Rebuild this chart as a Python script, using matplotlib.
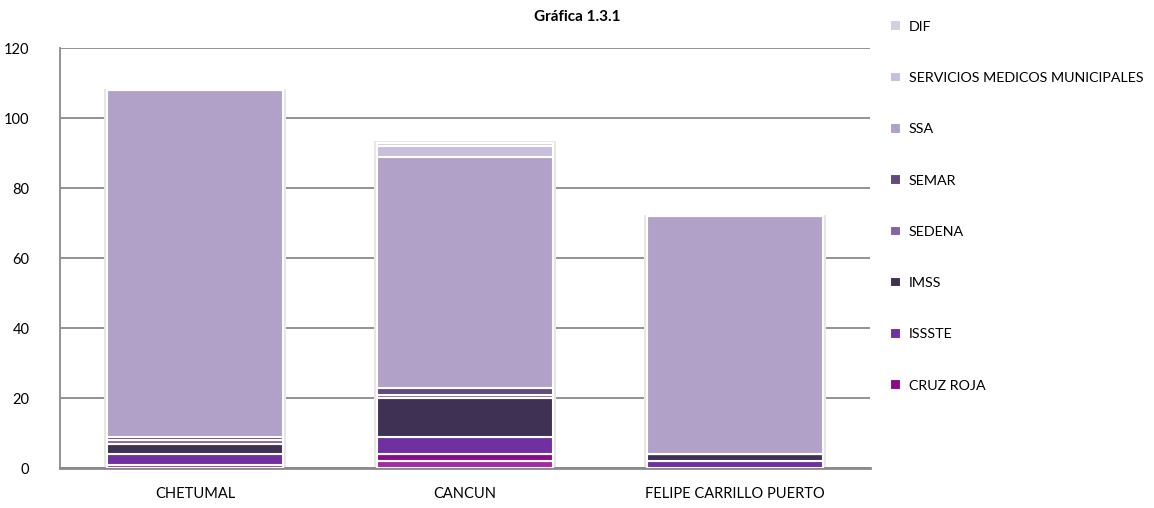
import numpy as np
import matplotlib.pyplot as plt

plt.rcParams['font.family'] = ['Lato', 'DejaVu Sans']

# categories and stacked series (bottom -> top)
ciudades = ["CHETUMAL", "CANCUN", "FELIPE CARRILLO PUERTO"]
otro = [1, 2, 0]          # bottom strip, not shown in the legend
cruz_roja = [0, 2, 0]
issste = [3, 5, 2]
imss = [3, 11, 2]
sedena = [1, 1, 0]
semar = [1, 2, 0]
ssa = [99, 66, 68]
serv_med_mun = [0, 3, 0]
dif = [0, 1, 0]

series = [
    ("_otro", otro, "#a52aa5"),
    ("CRUZ ROJA", cruz_roja, "#8b0a85"),
    ("ISSSTE", issste, "#7030a0"),
    ("IMSS", imss, "#3f3153"),
    ("SEDENA", sedena, "#8464a5"),
    ("SEMAR", semar, "#624a7e"),
    ("SSA", ssa, "#b1a1c8"),
    ("SERVICIOS MEDICOS MUNICIPALES", serv_med_mun, "#c9bedd"),
    ("DIF", dif, "#d3cee0"),
]

fig = plt.figure(figsize=(11.54, 5.08), dpi=100)
ax = fig.add_axes([0.052, 0.0787, 0.702, 0.8268])

x = np.arange(len(ciudades))
bottom = np.zeros(len(ciudades))
handles = []
totals = np.sum([s[1] for s in series], axis=0)

# soft shadow behind each whole bar
ax.bar(x, totals + 0.8, width=0.672, bottom=-0.4, color="#e6e6e6",
       edgecolor="none", zorder=2)
ax.bar(x, totals + 0.4, width=0.662, bottom=-0.2, color="#f4f4f4",
       edgecolor="none", zorder=2)

for name, vals, col in series:
    b = ax.bar(x, vals, width=0.65, bottom=bottom, color=col, edgecolor="white",
               linewidth=1.5, label=name, zorder=3)
    bottom += np.array(vals)
    if not name.startswith("_"):
        handles.append(b)

ax.set_xlim(-0.5, 2.5)
ax.set_ylim(0, 120)
ax.set_yticks(np.arange(0, 121, 20))
ax.set_xticks(x)
ax.set_xticklabels(ciudades)
ax.yaxis.grid(True, color="#8a8a8a", linewidth=1.3)
ax.set_axisbelow(True)
for s in ["top", "right"]:
    ax.spines[s].set_visible(False)
ax.spines["left"].set_color("#8a8a8a")
ax.spines["left"].set_linewidth(1.3)
ax.spines["bottom"].set_color("#8a8a8a")
ax.spines["bottom"].set_linewidth(2)
ax.tick_params(axis="both", length=0, labelsize=10.5, colors="#000000")
ax.tick_params(axis="y", pad=22)
ax.tick_params(axis="x", pad=14)

fig.text(0.5, 0.958, "Gráfica 1.3.1", ha="center", fontsize=11, fontweight="bold")

leg = fig.legend(handles=handles[::-1], labels=[h.get_label() for h in handles[::-1]],
                 loc="upper left", bbox_to_anchor=(0.76, 0.985), frameon=False,
                 fontsize=10.3, handlelength=0.75, handleheight=0.75, handletextpad=0.55,
                 labelspacing=2.73)

fig.savefig("out.png", dpi=100)
